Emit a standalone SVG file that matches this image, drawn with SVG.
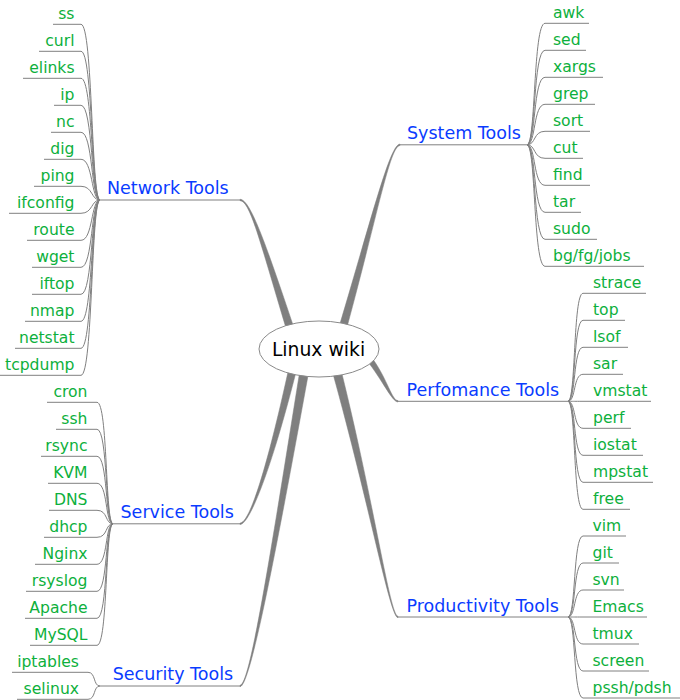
<svg xmlns="http://www.w3.org/2000/svg" width="680" height="700" viewBox="0 0 680 700">
<style>
.leaf{font-family:"DejaVu Sans","Noto Sans",sans-serif;font-size:15.6px;fill:#0db03c}
.br{font-family:"DejaVu Sans","Noto Sans",sans-serif;font-size:17.5px;fill:#0a3cff}
.ln{stroke:#808080;fill:none;stroke-width:1}
.tk{fill:#7f7f7f;stroke:#7f7f7f;stroke-width:0.5;stroke-linejoin:round}
.e{text-anchor:end}
</style>
<rect width="680" height="700" fill="#ffffff"/>
<g id="connectors">
<path class="tk" d="M286 328 C259.5 240 250 200.7 240 200.7 L240 199.3 C250 199.3 264.5 240 294 328 Z"/>
<path class="tk" d="M339 327 C372.5 215 390 144.1 400 144.1 L400 145.5 C390 145.5 377.5 215 347 327 Z"/>
<path class="tk" d="M366.5 360 C382.5 380 392 402 398 402 L398 400.6 C392 400.6 387.5 380 373.5 360 Z"/>
<path class="tk" d="M332.5 372 C369.5 505 390 617.7 398 617.7 L398 616.3 C390 616.3 374.5 505 341.5 372 Z"/>
<path class="tk" d="M288 372 C267.5 465 250 523.1 240 523.1 L240 524.5 C250 524.5 272.5 465 296 372 Z"/>
<path class="tk" d="M299.5 373 C269.5 560 250 685.3 240 685.3 L240 686.7 C250 686.7 274.5 560 308.5 373 Z"/>
<g class="ln">
<path d="M81 24.3 C93 24.3 91 200 100 200"/>
<path d="M81 51.3 C93 51.3 91 200 100 200"/>
<path d="M81 78.3 C93 78.3 91 200 100 200"/>
<path d="M81 105.3 C93 105.3 91 200 100 200"/>
<path d="M81 132.3 C93 132.3 91 200 100 200"/>
<path d="M81 159.3 C93 159.3 91 200 100 200"/>
<path d="M81 186.3 C93 186.3 91 200 100 200"/>
<path d="M81 213.3 C93 213.3 91 200 100 200"/>
<path d="M81 240.3 C93 240.3 91 200 100 200"/>
<path d="M81 267.3 C93 267.3 91 200 100 200"/>
<path d="M81 294.3 C93 294.3 91 200 100 200"/>
<path d="M81 321.3 C93 321.3 91 200 100 200"/>
<path d="M81 348.3 C93 348.3 91 200 100 200"/>
<path d="M81 375.3 C93 375.3 91 200 100 200"/>
<path d="M545 23.3 C533 23.3 536 144.8 527 144.8"/>
<path d="M545 50.3 C533 50.3 536 144.8 527 144.8"/>
<path d="M545 77.3 C533 77.3 536 144.8 527 144.8"/>
<path d="M545 104.3 C533 104.3 536 144.8 527 144.8"/>
<path d="M545 131.3 C533 131.3 536 144.8 527 144.8"/>
<path d="M545 158.3 C533 158.3 536 144.8 527 144.8"/>
<path d="M545 185.3 C533 185.3 536 144.8 527 144.8"/>
<path d="M545 212.3 C533 212.3 536 144.8 527 144.8"/>
<path d="M545 239.3 C533 239.3 536 144.8 527 144.8"/>
<path d="M545 266.3 C533 266.3 536 144.8 527 144.8"/>
<path d="M583 293.3 C573 293.3 576 401.3 568 401.3"/>
<path d="M583 320.3 C573 320.3 576 401.3 568 401.3"/>
<path d="M583 347.3 C573 347.3 576 401.3 568 401.3"/>
<path d="M583 374.3 C573 374.3 576 401.3 568 401.3"/>
<path d="M583 401.3 C573 401.3 576 401.3 568 401.3"/>
<path d="M583 428.3 C573 428.3 576 401.3 568 401.3"/>
<path d="M583 455.3 C573 455.3 576 401.3 568 401.3"/>
<path d="M583 482.3 C573 482.3 576 401.3 568 401.3"/>
<path d="M583 509.3 C573 509.3 576 401.3 568 401.3"/>
<path d="M583 536 C573 536 576 617 568 617"/>
<path d="M583 563 C573 563 576 617 568 617"/>
<path d="M583 590 C573 590 576 617 568 617"/>
<path d="M583 617 C573 617 576 617 568 617"/>
<path d="M583 644 C573 644 576 617 568 617"/>
<path d="M583 671 C573 671 576 617 568 617"/>
<path d="M583 698 C573 698 576 617 568 617"/>
<path d="M97 402.3 C108 402.3 105 523.8 113 523.8"/>
<path d="M97 429.3 C108 429.3 105 523.8 113 523.8"/>
<path d="M97 456.3 C108 456.3 105 523.8 113 523.8"/>
<path d="M97 483.3 C108 483.3 105 523.8 113 523.8"/>
<path d="M97 510.3 C108 510.3 105 523.8 113 523.8"/>
<path d="M97 537.3 C108 537.3 105 523.8 113 523.8"/>
<path d="M97 564.3 C108 564.3 105 523.8 113 523.8"/>
<path d="M97 591.3 C108 591.3 105 523.8 113 523.8"/>
<path d="M97 618.3 C108 618.3 105 523.8 113 523.8"/>
<path d="M97 645.3 C108 645.3 105 523.8 113 523.8"/>
<path d="M88 672.3 C96 672.3 93 686 100 686"/>
<path d="M88 699.3 C96 699.3 93 686 100 686"/>
</g>
</g>
<g id="center">
<ellipse cx="319" cy="349" rx="60" ry="28" fill="#ffffff" stroke="#8a8a8a" stroke-width="1"/>
<text x="318.5" y="356" text-anchor="middle" font-family="DejaVu Sans, sans-serif" font-size="18.8" fill="#000000">Linux wiki</text>
</g>
<g id="network-tools">
<line class="ln" x1="100" y1="200" x2="240" y2="200"/>
<text class="br" x="107" y="194.3">Network Tools</text>
</g>
<g id="system-tools">
<line class="ln" x1="400" y1="144.8" x2="527" y2="144.8"/>
<text class="br" x="407" y="139">System Tools</text>
</g>
<g id="performance-tools">
<line class="ln" x1="398" y1="401.3" x2="568" y2="401.3"/>
<text class="br" x="406.5" y="395.8">Perfomance Tools</text>
</g>
<g id="productivity-tools">
<line class="ln" x1="398" y1="617" x2="568" y2="617"/>
<text class="br" x="406.5" y="611.7">Productivity Tools</text>
</g>
<g id="service-tools">
<line class="ln" x1="113" y1="523.8" x2="240" y2="523.8"/>
<text class="br" x="120.5" y="518.3">Service Tools</text>
</g>
<g id="security-tools">
<line class="ln" x1="100" y1="686" x2="240" y2="686"/>
<text class="br" x="112.7" y="680.3">Security Tools</text>
</g>
<g id="network-leaves">
<g id="n-ss"><line class="ln" x1="53" y1="24.3" x2="81" y2="24.3"/><text class="leaf e" x="74.5" y="19">ss</text></g>
<g id="n-curl"><line class="ln" x1="39" y1="51.3" x2="81" y2="51.3"/><text class="leaf e" x="74.5" y="46">curl</text></g>
<g id="n-elinks"><line class="ln" x1="23" y1="78.3" x2="81" y2="78.3"/><text class="leaf e" x="74.5" y="73">elinks</text></g>
<g id="n-ip"><line class="ln" x1="54" y1="105.3" x2="81" y2="105.3"/><text class="leaf e" x="74.5" y="100">ip</text></g>
<g id="n-nc"><line class="ln" x1="51" y1="132.3" x2="81" y2="132.3"/><text class="leaf e" x="74.5" y="127">nc</text></g>
<g id="n-dig"><line class="ln" x1="44" y1="159.3" x2="81" y2="159.3"/><text class="leaf e" x="74.5" y="154">dig</text></g>
<g id="n-ping"><line class="ln" x1="34" y1="186.3" x2="81" y2="186.3"/><text class="leaf e" x="74.5" y="181">ping</text></g>
<g id="n-ifconfig"><line class="ln" x1="9" y1="213.3" x2="81" y2="213.3"/><text class="leaf e" x="74.5" y="208">ifconfig</text></g>
<g id="n-route"><line class="ln" x1="27" y1="240.3" x2="81" y2="240.3"/><text class="leaf e" x="74.5" y="235">route</text></g>
<g id="n-wget"><line class="ln" x1="32" y1="267.3" x2="81" y2="267.3"/><text class="leaf e" x="74.5" y="262">wget</text></g>
<g id="n-iftop"><line class="ln" x1="32" y1="294.3" x2="81" y2="294.3"/><text class="leaf e" x="74.5" y="289">iftop</text></g>
<g id="n-nmap"><line class="ln" x1="25" y1="321.3" x2="81" y2="321.3"/><text class="leaf e" x="74.5" y="316">nmap</text></g>
<g id="n-netstat"><line class="ln" x1="15" y1="348.3" x2="81" y2="348.3"/><text class="leaf e" x="74.5" y="343">netstat</text></g>
<g id="n-tcpdump"><line class="ln" x1="0" y1="375.3" x2="81" y2="375.3"/><text class="leaf e" x="74.5" y="370">tcpdump</text></g>
</g>
<g id="system-leaves">
<g id="s-awk"><line class="ln" x1="545" y1="23.3" x2="589" y2="23.3"/><text class="leaf" x="553" y="18">awk</text></g>
<g id="s-sed"><line class="ln" x1="545" y1="50.3" x2="586" y2="50.3"/><text class="leaf" x="553" y="45">sed</text></g>
<g id="s-xargs"><line class="ln" x1="545" y1="77.3" x2="603" y2="77.3"/><text class="leaf" x="553" y="72">xargs</text></g>
<g id="s-grep"><line class="ln" x1="545" y1="104.3" x2="595" y2="104.3"/><text class="leaf" x="553" y="99">grep</text></g>
<g id="s-sort"><line class="ln" x1="545" y1="131.3" x2="590" y2="131.3"/><text class="leaf" x="553" y="126">sort</text></g>
<g id="s-cut"><line class="ln" x1="545" y1="158.3" x2="583" y2="158.3"/><text class="leaf" x="553" y="153">cut</text></g>
<g id="s-find"><line class="ln" x1="545" y1="185.3" x2="590" y2="185.3"/><text class="leaf" x="553" y="180">find</text></g>
<g id="s-tar"><line class="ln" x1="545" y1="212.3" x2="581" y2="212.3"/><text class="leaf" x="553" y="207">tar</text></g>
<g id="s-sudo"><line class="ln" x1="545" y1="239.3" x2="597" y2="239.3"/><text class="leaf" x="553" y="234">sudo</text></g>
<g id="s-jobs"><line class="ln" x1="545" y1="266.3" x2="644" y2="266.3"/><text class="leaf" x="553" y="261">bg/fg/jobs</text></g>
</g>
<g id="performance-leaves">
<g id="p-strace"><line class="ln" x1="583" y1="293.3" x2="646" y2="293.3"/><text class="leaf" x="593" y="288">strace</text></g>
<g id="p-top"><line class="ln" x1="583" y1="320.3" x2="625" y2="320.3"/><text class="leaf" x="593" y="315">top</text></g>
<g id="p-lsof"><line class="ln" x1="583" y1="347.3" x2="628" y2="347.3"/><text class="leaf" x="593" y="342">lsof</text></g>
<g id="p-sar"><line class="ln" x1="583" y1="374.3" x2="623" y2="374.3"/><text class="leaf" x="593" y="369">sar</text></g>
<g id="p-vmstat"><line class="ln" x1="583" y1="401.3" x2="651" y2="401.3"/><text class="leaf" x="593" y="396">vmstat</text></g>
<g id="p-perf"><line class="ln" x1="583" y1="428.3" x2="631" y2="428.3"/><text class="leaf" x="593" y="423">perf</text></g>
<g id="p-iostat"><line class="ln" x1="583" y1="455.3" x2="643" y2="455.3"/><text class="leaf" x="593" y="450">iostat</text></g>
<g id="p-mpstat"><line class="ln" x1="583" y1="482.3" x2="653" y2="482.3"/><text class="leaf" x="593" y="477">mpstat</text></g>
<g id="p-free"><line class="ln" x1="583" y1="509.3" x2="630" y2="509.3"/><text class="leaf" x="593" y="504">free</text></g>
</g>
<g id="productivity-leaves">
<g id="r-vim"><line class="ln" x1="583" y1="536" x2="626" y2="536"/><text class="leaf" x="592.5" y="530.7">vim</text></g>
<g id="r-git"><line class="ln" x1="583" y1="563" x2="619" y2="563"/><text class="leaf" x="592.5" y="557.7">git</text></g>
<g id="r-svn"><line class="ln" x1="583" y1="590" x2="624" y2="590"/><text class="leaf" x="592.5" y="584.7">svn</text></g>
<g id="r-emacs"><line class="ln" x1="583" y1="617" x2="647" y2="617"/><text class="leaf" x="592.5" y="611.7">Emacs</text></g>
<g id="r-tmux"><line class="ln" x1="583" y1="644" x2="639" y2="644"/><text class="leaf" x="592.5" y="638.7">tmux</text></g>
<g id="r-screen"><line class="ln" x1="583" y1="671" x2="649" y2="671"/><text class="leaf" x="592.5" y="665.7">screen</text></g>
<g id="r-pssh"><line class="ln" x1="583" y1="698" x2="680" y2="698"/><text class="leaf" x="592.5" y="692.7">pssh/pdsh</text></g>
</g>
<g id="service-leaves">
<g id="v-cron"><line class="ln" x1="47" y1="402.3" x2="97" y2="402.3"/><text class="leaf e" x="87.5" y="397">cron</text></g>
<g id="v-ssh"><line class="ln" x1="56" y1="429.3" x2="97" y2="429.3"/><text class="leaf e" x="87.5" y="424">ssh</text></g>
<g id="v-rsync"><line class="ln" x1="41" y1="456.3" x2="97" y2="456.3"/><text class="leaf e" x="87.5" y="451">rsync</text></g>
<g id="v-kvm"><line class="ln" x1="48" y1="483.3" x2="97" y2="483.3"/><text class="leaf e" x="87.5" y="478">KVM</text></g>
<g id="v-dns"><line class="ln" x1="49" y1="510.3" x2="97" y2="510.3"/><text class="leaf e" x="87.5" y="505">DNS</text></g>
<g id="v-dhcp"><line class="ln" x1="44" y1="537.3" x2="97" y2="537.3"/><text class="leaf e" x="87.5" y="532">dhcp</text></g>
<g id="v-nginx"><line class="ln" x1="35" y1="564.3" x2="97" y2="564.3"/><text class="leaf e" x="87.5" y="559">Nginx</text></g>
<g id="v-rsyslog"><line class="ln" x1="26" y1="591.3" x2="97" y2="591.3"/><text class="leaf e" x="87.5" y="586">rsyslog</text></g>
<g id="v-apache"><line class="ln" x1="25" y1="618.3" x2="97" y2="618.3"/><text class="leaf e" x="87.5" y="613">Apache</text></g>
<g id="v-mysql"><line class="ln" x1="30" y1="645.3" x2="97" y2="645.3"/><text class="leaf e" x="87.5" y="640">MySQL</text></g>
</g>
<g id="security-leaves">
<g id="x-iptables"><line class="ln" x1="12" y1="672.3" x2="88" y2="672.3"/><text class="leaf e" x="79" y="667">iptables</text></g>
<g id="x-selinux"><line class="ln" x1="17" y1="699.3" x2="88" y2="699.3"/><text class="leaf e" x="79" y="694">selinux</text></g>
</g>
</svg>
